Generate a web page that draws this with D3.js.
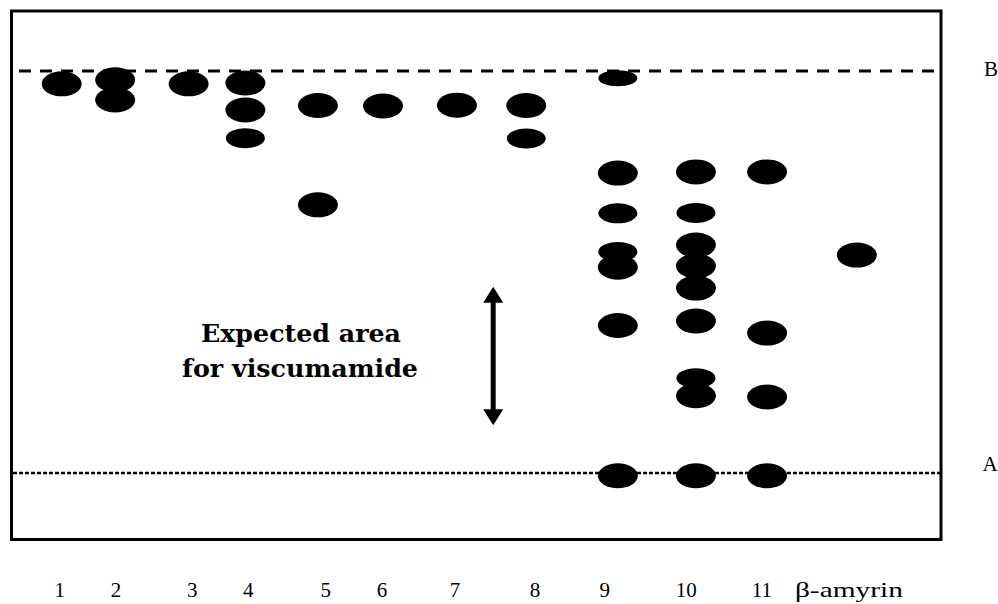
<!DOCTYPE html>
<html>
<head>
<meta charset="utf-8">
<script src="https://cdn.jsdelivr.net/npm/d3@7"></script>
<style>
  html, body { margin: 0; padding: 0; background: #fff; }
  svg { display: block; }
</style>
</head>
<body>
<svg id="tlc" width="998" height="604"></svg>
<script>
// Lane names along the origin of the plate
const lanes = ["1", "2", "3", "4", "5", "6", "7", "8", "9", "10", "11", "β-amyrin"];

// Where each sample was applied (mm from the left plate edge)
const laneOrigin = [10.9, 22.4, 38.2, 50.4, 66.0, 80.0, 95.9, 110.8, 130.5, 147.3, 162.6, 181.9];
// Where each lane name is written under the plate (mm)
const labelPos = [10.5, 22.6, 39.0, 51.0, 67.7, 79.8, 95.5, 112.7, 127.7, 145.2, 161.5, 180.2];

// Spots per lane: Rf value (A = 0, B = 1) and spot size ("m" normal, "s" small, "t" thin)
const spots1 = [[0.968, "m"]];
const spots2 = [[0.978, "m"], [0.928, "m"]];
const spots3 = [[0.968, "m"]];
const spots4 = [[0.970, "m"], [0.903, "m"], [0.833, "s"]];
const spots5 = [[0.914, "m"], [0.667, "m"]];
const spots6 = [[0.913, "m"]];
const spots7 = [[0.915, "m"]];
const spots8 = [[0.914, "m"], [0.832, "s"]];
const spots9 = [[0.982, "t"], [0.746, "m"], [0.646, "s"], [0.550, "s"], [0.512, "m"], [0.367, "m"], [-0.007, "m"]];
const spots10 = [[0.749, "m"], [0.647, "s"], [0.567, "m"], [0.515, "m"], [0.460, "m"], [0.378, "m"], [0.236, "s"], [0.192, "m"], [-0.007, "m"]];
const spots11 = [[0.749, "m"], [0.348, "m"], [0.189, "m"], [-0.007, "m"]];
const spotsAmyrin = [[0.542, "m"]];
const laneSpots = [spots1, spots2, spots3, spots4, spots5, spots6, spots7, spots8, spots9, spots10, spots11, spotsAmyrin];

// Expected Rf window for viscumamide
const expectedRange = [0.119, 0.463];
const expectedLabel = ["Expected area", "for viscumamide"];
const expectedPos = 103.7; // mm

const plateWidth = 200; // mm

const svg = d3.select("#tlc");

const x = d3.scaleLinear().domain([0, plateWidth]).range([11, 941]);
const y = d3.scaleLinear().domain([0, 1]).range([473, 71]);

// Plate outline
svg.append("rect")
  .attr("x", 11.5).attr("y", 11)
  .attr("width", 929.5).attr("height", 528.5)
  .attr("fill", "none").attr("stroke", "#000").attr("stroke-width", 3);

// Solvent front (B) and origin (A) lines
svg.append("line")
  .attr("x1", x(0)).attr("x2", x(plateWidth))
  .attr("y1", y(1)).attr("y2", y(1))
  .attr("stroke", "#000").attr("stroke-width", 3)
  .attr("stroke-dasharray", "12,9").attr("stroke-dashoffset", -8);

svg.append("line")
  .attr("x1", x(0) + 2).attr("x2", x(plateWidth))
  .attr("y1", y(0)).attr("y2", y(0))
  .attr("stroke", "#000").attr("stroke-width", 2.5)
  .attr("stroke-dasharray", "4,2");

const lineFont = "'Liberation Serif', 'Times New Roman', serif";
svg.append("text")
  .attr("x", 991).attr("y", y(1) + 5)
  .attr("text-anchor", "middle")
  .attr("font-family", lineFont).attr("font-size", 21)
  .text("B");
svg.append("text")
  .attr("x", 990).attr("y", y(0) - 2)
  .attr("text-anchor", "middle")
  .attr("font-family", lineFont).attr("font-size", 21)
  .text("A");

// Spots
const sizes = { m: [20, 12.5], s: [19.5, 10], t: [19.5, 8] };
const allSpots = [];
laneSpots.forEach((arr, i) => arr.forEach(([rf, sz]) => allSpots.push({ lane: i, rf, sz })));

svg.append("g").selectAll("ellipse")
  .data(allSpots)
  .join("ellipse")
  .attr("cx", d => x(laneOrigin[d.lane]))
  .attr("cy", d => y(d.rf))
  .attr("rx", d => sizes[d.sz][0])
  .attr("ry", d => sizes[d.sz][1])
  .attr("fill", "#000");

// Lane labels
svg.append("g").selectAll("text")
  .data(lanes)
  .join("text")
  .attr("x", (d, i) => x(labelPos[i]))
  .attr("y", 597)
  .attr("text-anchor", "middle")
  .attr("font-family", lineFont)
  .attr("font-size", 21)
  .each(function (d) {
    if (d.length > 2) {
      d3.select(this).attr("textLength", 108).attr("lengthAdjust", "spacingAndGlyphs");
    }
  })
  .text(d => d);

// Expected-area arrow
const ax = x(expectedPos);
const yTop = y(expectedRange[1]);
const yBot = y(expectedRange[0]);
svg.append("line")
  .attr("x1", ax).attr("x2", ax)
  .attr("y1", yTop + 10).attr("y2", yBot - 10)
  .attr("stroke", "#000").attr("stroke-width", 5);
svg.append("path")
  .attr("d", `M${ax},${yTop} L${ax - 10},${yTop + 16} L${ax + 10},${yTop + 16} Z`)
  .attr("fill", "#000");
svg.append("path")
  .attr("d", `M${ax},${yBot} L${ax - 10},${yBot - 16} L${ax + 10},${yBot - 16} Z`)
  .attr("fill", "#000");

const labelFont = "'DejaVu Serif', serif";
svg.append("text")
  .attr("x", 301).attr("y", 342)
  .attr("text-anchor", "middle")
  .attr("font-family", labelFont).attr("font-weight", "bold").attr("font-size", 24)
  .attr("textLength", 200).attr("lengthAdjust", "spacingAndGlyphs")
  .text(expectedLabel[0]);
svg.append("text")
  .attr("x", 300).attr("y", 377)
  .attr("text-anchor", "middle")
  .attr("font-family", labelFont).attr("font-weight", "bold").attr("font-size", 24)
  .attr("textLength", 236).attr("lengthAdjust", "spacingAndGlyphs")
  .text(expectedLabel[1]);
</script>
</body>
</html>
